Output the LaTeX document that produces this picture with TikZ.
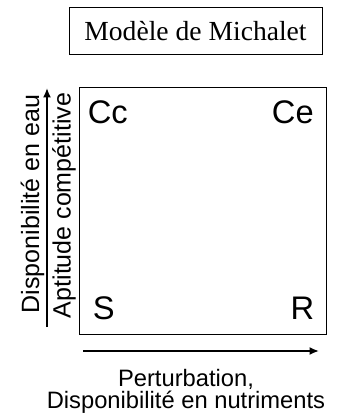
\documentclass[tikz,border=0pt]{standalone}
\usepackage{fontspec}
\setmainfont{Liberation Sans}
\newfontfamily\serifface{Liberation Serif}
\usepackage{tikz}
\usetikzlibrary{arrows.meta,positioning}
\tikzset{
titlebox/.style = {draw, fill=white, rectangle, line width=0.75pt, minimum width=189.75pt, minimum height=35.25pt, font=\serifface\fontsize{20.7pt}{24pt}\selectfont},
quadbox/.style = {draw, rectangle, line width=0.75pt, minimum width=185.25pt, minimum height=185.25pt},
corner/.style = {inner sep=0pt, font=\fontsize{24.5pt}{28pt}\selectfont},
axislabel/.style = {inner sep=0pt, rotate=90, anchor=base, font=\fontsize{18.75pt}{22pt}\selectfont},
axis/.style = {->, line width=1.5pt}
}
\begin{document}
\begin{tikzpicture}[x=0.75pt, y=-0.75pt, >={Latex[length=7pt,width=6pt]}]
    \useasboundingbox (0,0) rectangle (337,414);
    \node [titlebox] (title) at (195.5,31) {Modèle de Michalet};
    \node [quadbox] (quad) at (202.5,210.5) {};
    % strategies
    \node [corner, anchor=base west] (cc) at (87.5,123.5) {Cc};
    \node [corner, anchor=base east] (ce) at (314,123.5) {Ce};
    \node [corner, anchor=base west] (s) at (92.5,319.5) {S};
    \node [corner, anchor=base east] (r) at (314.5,319.5) {R};
    % vertical axis
    \coordinate (ybot) at (47,327);
    \coordinate (ytop) at (47,88);
    \draw [axis] (ybot) -- (ytop);
    \node [axislabel] (eau) at (39,204) {Disponibilité en eau};
    \node [axislabel] (comp) at (70.5,205.5) {Aptitude compétitive};
    % horizontal axis
    \coordinate (xleft) at (83,351);
    \coordinate (xright) at (319,351);
    \draw [axis] (xleft) -- (xright);
    \node [inner sep=0pt, anchor=base, align=center, font=\fontsize{17.8pt}{16.5pt}\selectfont] (pert) at (186,408) {Perturbation,\\Disponibilité en nutriments};
\end{tikzpicture}
\end{document}
